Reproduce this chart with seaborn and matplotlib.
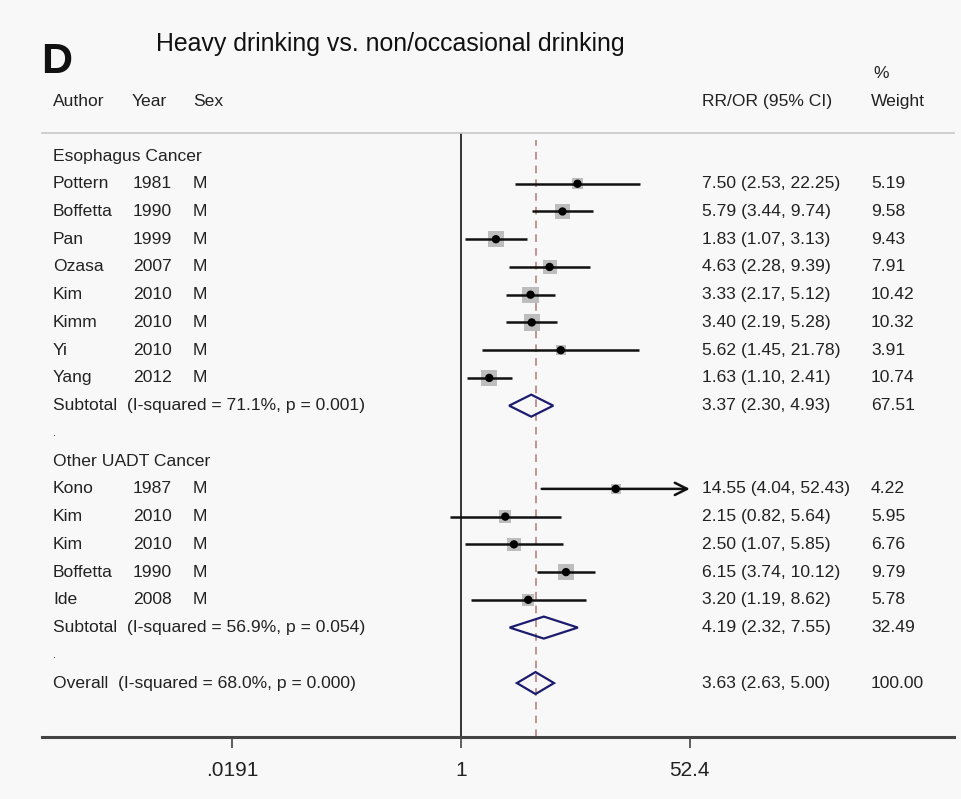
import numpy as np
import pandas as pd
import matplotlib
matplotlib.use("Agg")
import matplotlib.pyplot as plt
import matplotlib.transforms as mtransforms
from matplotlib.patches import Polygon
import seaborn as sns

# ---------------- data ----------------
esoph_author = ["Pottern", "Boffetta", "Pan", "Ozasa", "Kim", "Kimm", "Yi", "Yang"]
esoph_year = ["1981", "1990", "1999", "2007", "2010", "2010", "2010", "2012"]
esoph_sex = ["M"] * 8
esoph_rr = [7.50, 5.79, 1.83, 4.63, 3.33, 3.40, 5.62, 1.63]
esoph_lo = [2.53, 3.44, 1.07, 2.28, 2.17, 2.19, 1.45, 1.10]
esoph_hi = [22.25, 9.74, 3.13, 9.39, 5.12, 5.28, 21.78, 2.41]
esoph_w = [5.19, 9.58, 9.43, 7.91, 10.42, 10.32, 3.91, 10.74]

other_author = ["Kono", "Kim", "Kim", "Boffetta", "Ide"]
other_year = ["1987", "2010", "2010", "1990", "2008"]
other_sex = ["M"] * 5
other_rr = [14.55, 2.15, 2.50, 6.15, 3.20]
other_lo = [4.04, 0.82, 1.07, 3.74, 1.19]
other_hi = [52.43, 5.64, 5.85, 10.12, 8.62]
other_w = [4.22, 5.95, 6.76, 9.79, 5.78]

group_names = ["Esophagus Cancer", "Other UADT Cancer"]
sub_labels = ["Subtotal  (I-squared = 71.1%, p = 0.001)",
              "Subtotal  (I-squared = 56.9%, p = 0.054)",
              "Overall  (I-squared = 68.0%, p = 0.000)"]
sub_rr = [3.37, 4.19, 3.63]
sub_lo = [2.30, 2.32, 2.63]
sub_hi = [4.93, 7.55, 5.00]
sub_w = [67.51, 32.49, 100.00]

tick_vals = [0.0191, 1, 52.4]
tick_labels = [".0191", "1", "52.4"]

title = "Heavy drinking vs. non/occasional drinking"

# ---------------- layout helpers ----------------
W, H = 961, 799
sns.set_theme(style="white")
plt.rcParams["font.family"] = ["Liberation Sans", "DejaVu Sans"]
fig = plt.figure(figsize=(W / 100, H / 100), dpi=100)
bg = "#f8f8f8"
fig.patch.set_facecolor(bg)

ax_left, ax_right, ax_top, ax_bot = 42, 954, 133, 737
ax = fig.add_axes([ax_left / W, 1 - ax_bot / H, (ax_right - ax_left) / W, (ax_bot - ax_top) / H])
ax.set_facecolor(bg)

row0_px, row_step = 156, 27.74
ax.set_ylim((ax_bot - row0_px) / row_step, (ax_top - row0_px) / row_step)
# log scale x; 1 at px 461, 57.8 px per ln unit
px1, ppl = 461, 57.8
ax.set_xscale("log")
ax.set_xlim(np.exp((ax_left - px1) / ppl), np.exp((ax_right - px1) / ppl))

tr = mtransforms.blended_transform_factory(fig.transFigure, ax.transData)
txtc = "#222222"
fs = 12.6

def put(xpx, row, s, **kw):
    ax.text(xpx / W, row, s, transform=tr, va="center", ha="left",
            fontsize=kw.pop("fontsize", fs), color=txtc, clip_on=False, **kw)

# build study table
rows_study = []
r = 0
put(53, r, group_names[0]); r += 1
for a, y, sx, rr, lo, hi, w in zip(esoph_author, esoph_year, esoph_sex, esoph_rr, esoph_lo, esoph_hi, esoph_w):
    rows_study.append(dict(row=r, author=a, year=y, sex=sx, rr=rr, lo=lo, hi=hi, w=w)); r += 1
sub_rows = [r]; r += 1
put(53, r, ".", fontsize=8); r += 1
put(53, r, group_names[1]); r += 1
for a, y, sx, rr, lo, hi, w in zip(other_author, other_year, other_sex, other_rr, other_lo, other_hi, other_w):
    rows_study.append(dict(row=r, author=a, year=y, sex=sx, rr=rr, lo=lo, hi=hi, w=w)); r += 1
sub_rows.append(r); r += 1
put(53, r, ".", fontsize=8); r += 1
sub_rows.append(r)

df = pd.DataFrame(rows_study)
xmax_axis = 52.4

# reference lines
ax.axvline(1, color="#333333", lw=1.4, zorder=1)
ax.axvline(sub_rr[2], ymin=0, ymax=(ax_bot - 140) / (ax_bot - ax_top),
           color="#b07a7a", lw=1.1, ls=(0, (5, 4)), zorder=1)

# CI lines
for _, d in df.iterrows():
    if d.hi > xmax_axis:
        ax.annotate("", xy=(xmax_axis, d.row), xytext=(d.lo, d.row),
                    arrowprops=dict(arrowstyle="->", lw=1.8, color="#111111",
                                    mutation_scale=22, shrinkA=0, shrinkB=0), zorder=3)
    else:
        ax.plot([d.lo, d.hi], [d.row, d.row], color="#111111", lw=1.8, zorder=3,
                solid_capstyle="butt")

# weight squares (area proportional to weight)
side_max_px = 16.5
smax_pt2 = (side_max_px * 0.72) ** 2
sns.scatterplot(data=df, x="rr", y="row", size="w", sizes=(0, smax_pt2),
                size_norm=(0, 10.74), marker="s", color="#bdbdbd", edgecolor="none",
                legend=False, ax=ax, zorder=2)
sns.scatterplot(data=df, x="rr", y="row", marker="o", s=36, color="#000000",
                edgecolor="none", legend=False, ax=ax, zorder=4)

# diamonds
half_h = 11 / row_step
for rr_, lo_, hi_, rw in zip(sub_rr, sub_lo, sub_hi, sub_rows):
    poly = Polygon([(lo_, rw), (rr_, rw - half_h), (hi_, rw), (rr_, rw + half_h)],
                   closed=True, fill=False, edgecolor="#1c1c6e", lw=1.6, zorder=5)
    ax.add_patch(poly)

# text columns
for _, d in df.iterrows():
    put(53, d.row, d.author)
    put(133, d.row, d.year)
    put(193, d.row, d.sex)
    put(702, d.row, f"{d.rr:.2f} ({d.lo:.2f}, {d.hi:.2f})")
    put(871, d.row, f"{d.w:.2f}")
for lab, rr_, lo_, hi_, w_, rw in zip(sub_labels, sub_rr, sub_lo, sub_hi, sub_w, sub_rows):
    put(53, rw, lab)
    put(702, rw, f"{rr_:.2f} ({lo_:.2f}, {hi_:.2f})")
    put(871, rw, f"{w_:.2f}")

# headers
hdr_row = (101 - row0_px) / row_step
put(53, hdr_row, "Author")
put(132, hdr_row, "Year")
put(193, hdr_row, "Sex")
put(702, hdr_row, "RR/OR (95% CI)")
put(871, hdr_row, "Weight")
put(873, (73 - row0_px) / row_step, "%")

fig.text(41 / W, 1 - 73 / H, "D", fontsize=31, fontweight="bold", color="#111111",
         va="baseline", ha="left")
fig.text(390 / W, 1 - 51 / H, title, fontsize=17.9, color="#111111", va="baseline", ha="center")

# spines and ticks
for s in ["left", "right"]:
    ax.spines[s].set_visible(False)
ax.spines["top"].set_color("#c8c8c8")
ax.spines["top"].set_linewidth(1.2)
ax.spines["bottom"].set_color("#444444")
ax.spines["bottom"].set_linewidth(2.2)
ax.set_yticks([])
ax.minorticks_off()
ax.set_xticks(tick_vals)
ax.set_xticklabels(tick_labels)
ax.tick_params(axis="x", which="major", direction="out", length=8, width=1.2,
               color="#444444", labelsize=15, labelcolor="#222222", pad=9, bottom=True)
ax.tick_params(axis="x", which="minor", bottom=False)
ax.set_xlabel("")
ax.set_ylabel("")

fig.savefig("out.png", dpi=100, facecolor=bg)
